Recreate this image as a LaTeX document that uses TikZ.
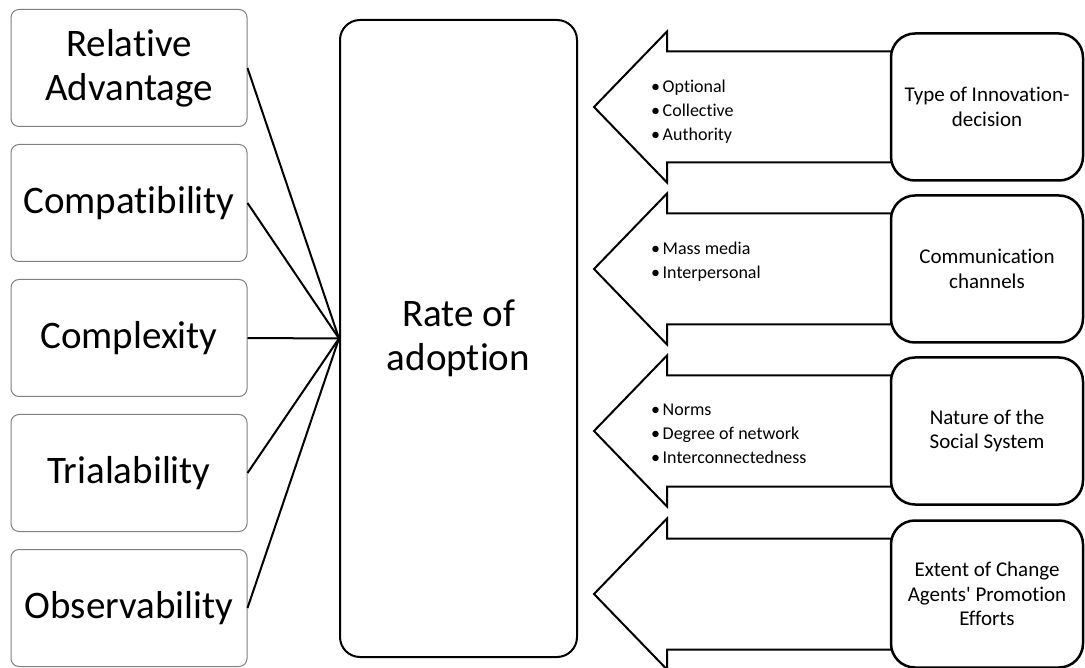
\documentclass[tikz,border=0pt]{standalone}
\usepackage{fontspec}
\setmainfont{Carlito}[Ligatures={TeXOff,NoCommon}]
\begin{document}
\begin{tikzpicture}[x=1pt,y=-1pt,
  attrbox/.style={draw=black!50, line width=1pt, rounded corners=8pt,
    minimum width=236pt, minimum height=117pt, inner sep=0pt, align=center,
    font=\fontsize{39}{44}\selectfont},
  ratebox/.style={draw=black, line width=2pt, rounded corners=20pt,
    minimum width=237pt, minimum height=637pt, inner sep=0pt, align=center,
    font=\fontsize{39}{44}\selectfont},
  srcbox/.style={draw=black, fill=white, line width=2.5pt, rounded corners=24pt,
    minimum width=192pt, minimum height=147pt, inner sep=0pt, align=center,
    font=\fontsize{21}{24.5}\selectfont},
  bigarrow/.style={draw=black, fill=white, line width=2pt, line join=miter},
  link/.style={draw=black, line width=2pt},
  bullets/.style={anchor=north west, inner sep=0pt, align=left,
    font=\fontsize{18}{24}\selectfont}]
\useasboundingbox (0,0) rectangle (1085,668);
\newcommand{\bul}[1]{\makebox[11.5pt][l]{•}#1}

% attributes of the innovation
\node[attrbox] (rel) at (129,68)  {Relative\\Advantage};
\node[attrbox] (com) at (129,203) {Compatibility};
\node[attrbox] (cpx) at (129,338) {Complexity};
\node[attrbox] (tri) at (129,473) {Trialability};
\node[attrbox] (obs) at (129,608) {Observability};

% rate of adoption
\node[ratebox] (rate) at (458.5,338.5) {Rate of\\adoption};

\foreach \n in {rel,com,cpx,tri,obs}
  \draw[link] (\n.east) -- (rate.west);

% variables feeding the rate of adoption
\foreach \y in {107,269,431,594} {
  \draw[bigarrow] (905,\y-55.5) -- (667,\y-55.5) -- (667,\y-75.5) -- (594,\y)
    -- (667,\y+75.5) -- (667,\y+55.5) -- (905,\y+55.5) -- cycle;
}
\node[srcbox] (s1) at (987,107) {Type of Innovation-\\decision};
\node[srcbox] (s2) at (987,269) {Communication\\channels};
\node[srcbox] (s3) at (987,431) {Nature of the\\Social System};
\node[srcbox] (s4) at (987,594) {Extent of Change\\Agents' Promotion\\Efforts};

\node[bullets] (b1) at (651,107-27) {\bul{Optional}\\\bul{Collective}\\\bul{Authority}};
\node[bullets] (b2) at (651,269-27) {\bul{Mass media}\\\bul{Interpersonal}};
\node[bullets] (b3) at (651,431-27) {\bul{Norms}\\\bul{Degree of network}\\\bul{Interconnectedness}};
\end{tikzpicture}
\end{document}
